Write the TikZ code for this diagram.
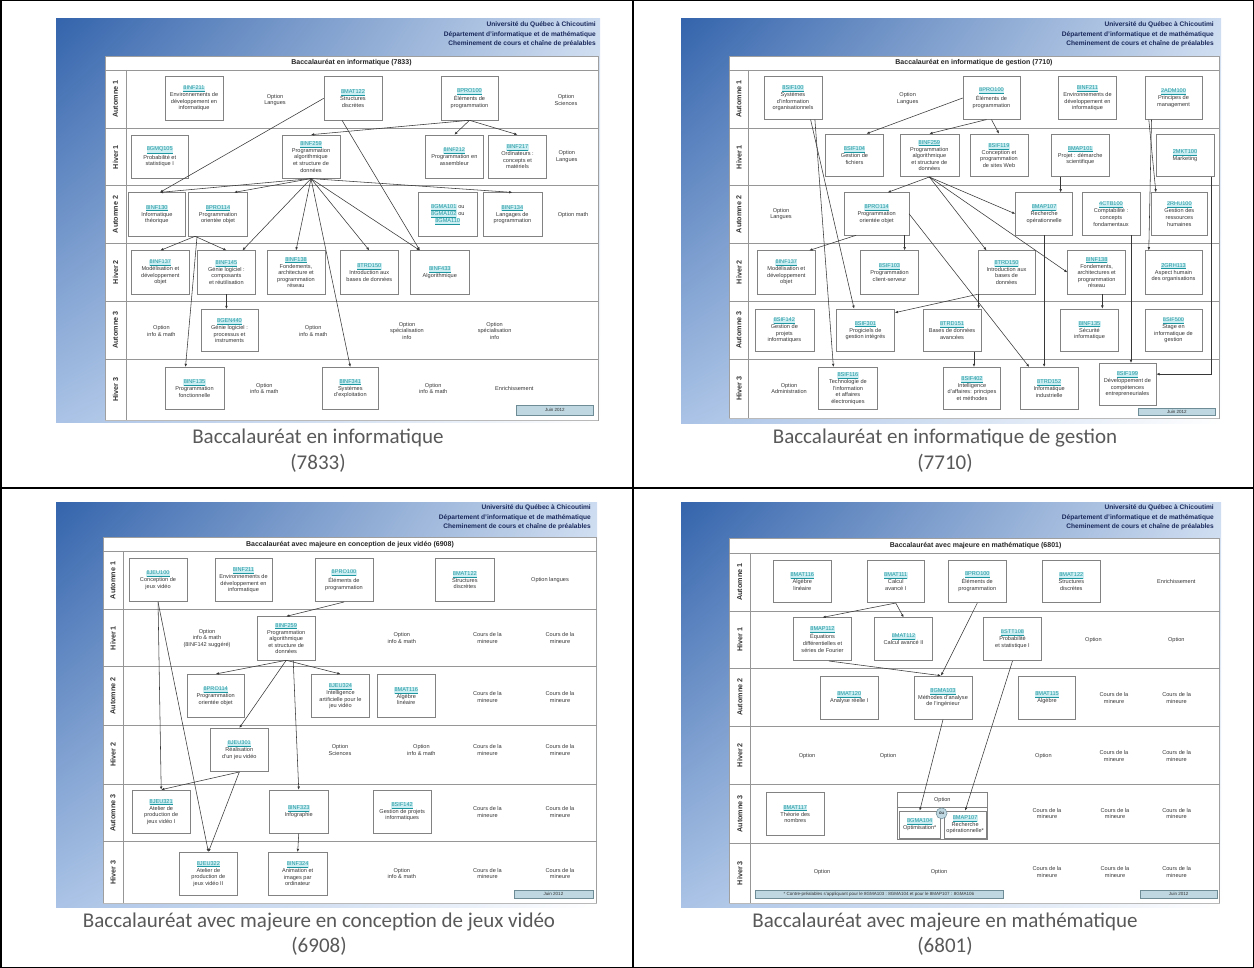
\documentclass[tikz,border=0pt]{standalone}
\usepackage{fontspec}
\setmainfont{Liberation Sans}
\newfontfamily\capfont{Carlito}
\usetikzlibrary{arrows.meta,shadings}

\definecolor{blueA}{RGB}{52,100,172}
\definecolor{blueB}{RGB}{205,220,240}
\definecolor{blueC}{RGB}{170,195,230}
\definecolor{navy}{RGB}{25,40,90}
\definecolor{codecol}{RGB}{30,150,160}
\definecolor{codebg}{RGB}{205,238,242}
\definecolor{boxtext}{RGB}{55,55,55}
\definecolor{gridcol}{RGB}{150,150,150}
\definecolor{boxline}{RGB}{130,130,130}
\definecolor{arrowcol}{RGB}{55,55,55}
\definecolor{capgray}{RGB}{89,89,89}
\definecolor{juinfill}{RGB}{190,215,225}
\definecolor{juinline}{RGB}{110,140,150}

% course code set like a highlighted link
\newcommand\cd[1]{{\setlength{\fboxsep}{0.3pt}\colorbox{codebg}{\color{codecol}\underline{#1}}}}
% course code on its own line
\newcommand\cc[1]{\cd{#1}\\[0.4pt]}
% box given by its corners: style, name, x0, y0, x1, y1, text
\newcommand\rbox[7]{\node[#1, minimum width={(#5)-(#3)}, minimum height={(#6)-(#4)}] (#2) at ({((#3)+(#5))/2},{((#4)+(#6))/2}) {#7};}
% header rule, label column rule and row rules of a chart
\newcommand\thumbgrid[6]{%
  \draw[rowrule] (#1,#4) -- (#3,#4);
  \draw[rowrule] (#2,#4) -- (#2,#5);
  \foreach \yy in {#6} \draw[rowrule] (#1,\yy) -- (#3,\yy);}
% term labels of the six rows
\newcommand\thumbrows[9]{%
  \node[rlab] (#1L1) at (#2,{(#3+#4)/2}) {Automne 1};
  \node[rlab] (#1L2) at (#2,{(#4+#5)/2}) {Hiver 1};
  \node[rlab] (#1L3) at (#2,{(#5+#6)/2}) {Automne 2};
  \node[rlab] (#1L4) at (#2,{(#6+#7)/2}) {Hiver 2};
  \node[rlab] (#1L5) at (#2,{(#7+#8)/2}) {Automne 3};
  \node[rlab] (#1L6) at (#2,{(#8+#9)/2}) {Hiver 3};}
\newcommand\bluebg[4]{\shade[shading=bilinear interpolation, upper left=blueA, upper right=blueB, lower left=blueC, lower right=white] (#1,#2) rectangle (#3,#4);}
\newcommand\uqac{Université du Québec à Chicoutimi\\Département d'informatique et de mathématique\\Cheminement de cours et chaîne de préalables}

\tikzset{
  cbox/.style={draw=boxline, line width=0.6pt, fill=white, align=center, inner sep=0.5pt,
    font=\fontsize{5.6}{6.6}\selectfont, text=boxtext},
  opt/.style={align=center, inner sep=0pt, font=\fontsize{5.6}{6.6}\selectfont, text=boxtext},
  hdr/.style={align=right, inner sep=0pt, anchor=north east,
    font=\fontsize{6.6}{9.5}\selectfont\bfseries, text=navy},
  ttl/.style={inner sep=0pt, font=\fontsize{7}{8}\selectfont\bfseries, text=black!85},
  rlab/.style={rotate=90, inner sep=0pt, font=\fontsize{7.2}{8}\selectfont\bfseries, text=black!80},
  rowrule/.style={draw=gridcol, line width=0.7pt},
  panelbox/.style={fill=white, draw=gray!75, line width=0.8pt},
  juin/.style={draw=juinline, fill=juinfill, line width=0.6pt, inner sep=0pt,
    font=\fontsize{4.5}{5}\selectfont, text=black!80},
  arr/.style={draw=arrowcol, line width=0.55pt, -{Latex[length=3.2pt,width=2.6pt]}},
  captext/.style={inner sep=0pt, font=\capfont\fontsize{21}{25}\selectfont, text=capgray},
  tablerule/.style={draw=black, line width=1.5pt},
}

\begin{document}
\begin{tikzpicture}[x=1pt,y=-1pt]
\useasboundingbox (0,0) rectangle (1254,968);
\fill[white] (0,0) rectangle (1254,968);

% ================= Baccalauréat en informatique (7833) =================
\bluebg{56}{19}{600}{423}
\node[hdr] (aHdr) at (596,21.5) {\uqac};
\draw[panelbox] (105,56) rectangle (598,420);
\draw[gray!55, line width=1.2pt] (105,420.5) -- (598,420.5);
\node[ttl] (aTtl) at (351.5,63) {Baccalauréat en informatique (7833)};
\thumbgrid{105}{126}{598}{70}{420}{128.3,185.7,243.3,301,359}
\thumbrows{A}{115.5}{70}{128.3}{185.7}{243.3}{301}{359}{420}

\rbox{cbox}{aEnv}{165}{76.7}{223}{120}{\cc{8INF211}Environnements de\\développement en\\informatique}
\node[opt] (aO1) at (275,100) {Option\\Langues};
\rbox{cbox}{aStr}{324}{76.7}{382}{120}{\cc{8MAT122}Structures\\discrètes}
\rbox{cbox}{aElem}{441}{76.7}{498}{120}{\cc{8PRO100}Éléments de\\programmation}
\node[opt] (aO2) at (566,100) {Option\\Sciences};

\rbox{cbox}{aProb}{131}{135}{188.6}{178.3}{\cc{8GMQ105}Probabilité et\\statistique I}
\rbox{cbox}{aAlgo}{282}{135}{340}{178.3}{\cc{8INF259}Programmation\\algorithmique\\et structure de\\données}
\rbox{cbox}{aAsm}{425.7}{135}{483}{178.3}{\cc{8INF212}Programmation en\\assembleur}
\rbox{cbox}{aMat}{488.6}{135}{546.4}{178.3}{\cc{8INF217}Ordinateurs :\\concepts et\\matériels}
\node[opt] (aO3) at (566.8,156.7) {Option\\Langues};

\rbox{cbox}{aTheo}{128}{192.7}{185.7}{236}{\cc{8INF130}Informatique\\théorique}
\rbox{cbox}{aOO}{188.6}{192.7}{247.5}{236}{\cc{8PRO114}Programmation\\orientée objet}
\rbox{cbox}{aOu}{418.6}{192.7}{476.8}{236}{\cd{8GMA101} ou\\[0.4pt]\cd{8GMA102} ou\\[0.4pt]\cd{8GMA110}}
\rbox{cbox}{aLang}{483}{192.7}{541.8}{236}{\cc{8INF134}Langages de\\programmation}
\node[opt] (aO4) at (573,215) {Option math};

\rbox{cbox}{aMod}{131.4}{250.7}{189.3}{294}{\cc{8INF137}Modélisation et\\développement\\objet}
\rbox{cbox}{aGLc}{197.5}{250.7}{255.4}{294}{\cc{8INF145}Génie logiciel :\\composants\\et réutilisation}
\rbox{cbox}{aRes}{267}{250.7}{325}{294}{\cc{8INF138}Fondements,\\architecture et\\programmation\\réseau}
\rbox{cbox}{aBD}{340.4}{250.7}{398.2}{294}{\cc{8TRD150}Introduction aux\\bases de données}
\rbox{cbox}{aAlgq}{410.7}{250.7}{469}{294}{\cc{8INF433}Algorithmique}

\node[opt] (aO5) at (161.4,330.7) {Option\\info \& math};
\rbox{cbox}{aGLp}{201}{309.3}{258}{351.7}{\cc{8GEN440}Génie logiciel :\\processus et\\instruments}
\node[opt] (aO6) at (313.2,330.7) {Option\\info \& math};
\node[opt] (aO7) at (407,330.7) {Option\\spécialisation\\info};
\node[opt] (aO8) at (494.6,330.7) {Option\\spécialisation\\info};

\rbox{cbox}{aFonc}{165}{367.3}{224}{409.3}{\cc{8INF135}Programmation\\fonctionnelle}
\node[opt] (aO9) at (264.3,388.3) {Option\\info \& math};
\rbox{cbox}{aSE}{322}{367.3}{378.6}{409.3}{\cc{8INF341}Systèmes\\d'exploitation}
\node[opt] (aO10) at (433.2,388.3) {Option\\info \& math};
\node[opt] (aO11) at (514.3,388.3) {Enrichissement};
\rbox{juin}{aJuin}{516}{405}{593.6}{415}{Juin 2012}

\draw[arr] (aStr.west) -- ([xshift=3pt]aTheo.north);
\draw[arr] ([xshift=-11pt]aStr.south) -- ([xshift=-20pt]aAlgq.north);
\draw[arr] (aElem.south) -- (aAlgo.north);
\draw[arr] (aElem.south) -- (aAsm.north);
\draw[arr] (aElem.south) -- (aMat.north);
\draw[arr] (aAlgo.south) -- ([xshift=3pt]aTheo.north);
\draw[arr] (aAlgo.south) -- ([xshift=16pt]aOO.north);
\draw[arr] (aAlgo.south) -- (aLang.north);
\draw[arr] (aAlgo.south) -- ([xshift=16pt]aGLc.north);
\draw[arr] (aAlgo.south) -- (aRes.north);
\draw[arr] (aAlgo.south) -- (aBD.north);
\draw[arr] (aAlgo.south) -- ([xshift=-20pt]aAlgq.north);
\draw[arr] (aAlgo.south) -- (aSE.north);
\draw[arr] ([xshift=-23pt]aOO.south) -- (aMod.north);
\draw[arr] ([xshift=-23pt]aOO.south) -- (aGLc.north);
\draw[arr] ([xshift=-21pt]aOO.south) -- ([xshift=-9pt]aFonc.north);
\draw[arr] (aGLc.south) -- (aGLc.south |- aGLp.north);

% ============ Baccalauréat en informatique de gestion (7710) ============
\bluebg{681}{19}{1221}{424}
\node[hdr] (bHdr) at (1214,21.5) {\uqac};
\draw[panelbox] (729,56) rectangle (1219,418);
\draw[gray!55, line width=1.2pt] (729,418.5) -- (1219,418.5);
\node[ttl] (bTtl) at (974,63) {Baccalauréat en informatique de gestion (7710)};
\thumbgrid{729}{748.8}{1219}{70}{418}{128.3,185.7,243.3,301,359}
\thumbrows{B}{739}{70}{128.3}{185.7}{243.3}{301}{359}{418}

\rbox{cbox}{bSys}{764}{76.7}{822}{119.3}{\cc{8SIF100}Systèmes\\d'information\\organisationnels}
\node[opt] (bO1) at (907.7,98.3) {Option\\Langues};
\rbox{cbox}{bElem}{963}{76.7}{1020}{119.3}{\cc{8PRO100}Éléments de\\programmation}
\rbox{cbox}{bEnv}{1058.4}{76.7}{1116.6}{119.3}{\cc{8INF211}Environnements de\\développement en\\informatique}
\rbox{cbox}{bMgt}{1145}{76.7}{1202}{119.3}{\cc{2ADM100}Principes de\\management}

\rbox{cbox}{bFich}{825.6}{134}{883.4}{176.7}{\cc{8SIF104}Gestion de\\fichiers}
\rbox{cbox}{bAlgo}{899.9}{134}{958.8}{176.7}{\cc{8INF259}Programmation\\algorithmique\\et structure de\\données}
\rbox{cbox}{bWeb}{970}{134}{1028}{176.7}{\cc{8SIF119}Conception et\\programmation\\de sites Web}
\rbox{cbox}{bProj}{1051}{134}{1109.5}{176.7}{\cc{8MAP101}Projet : démarche\\scientifique}
\rbox{cbox}{bMkt}{1156}{134}{1214}{176.7}{\cc{2MKT100}Marketing}

\node[opt] (bO2) at (781,214) {Option\\Langues};
\rbox{cbox}{bOO}{844.5}{192.7}{908.8}{235}{\cc{8PRO114}Programmation\\orientée objet}
\rbox{cbox}{bRO}{1015.6}{192.7}{1072.7}{235}{\cc{8MAP107}Recherche\\opérationnelle}
\rbox{cbox}{bCpt}{1082}{192.7}{1140}{235}{\cc{4CTB100}Comptabilité :\\concepts\\fondamentaux}
\rbox{cbox}{bRH}{1151}{192.7}{1207.7}{235}{\cc{2RHU100}Gestion des\\ressources\\humaines}

\rbox{cbox}{bMod}{757.7}{250.7}{814.9}{294}{\cc{8INF137}Modélisation et\\développement\\objet}
\rbox{cbox}{bCS}{860.6}{250.7}{918.4}{294}{\cc{8SIF103}Programmation\\client-serveur}
\rbox{cbox}{bBD}{978}{250.7}{1035}{294}{\cc{8TRD150}Introduction aux\\bases de\\données}
\rbox{cbox}{bRes}{1067.7}{250.7}{1125.6}{294}{\cc{8INF138}Fondements,\\architectures et\\programmation\\réseau}
\rbox{cbox}{bHum}{1145}{250.7}{1202}{294}{\cc{2GRH113}Aspect humain\\des organisations}

\rbox{cbox}{bGP}{754.9}{309}{813.8}{351.7}{\cc{8SIF142}Gestion de\\projets\\informatiques}
\rbox{cbox}{bPGI}{836.3}{309}{894.5}{351.7}{\cc{8SIF301}Progiciels de\\gestion intégrés}
\rbox{cbox}{bBDA}{923}{309}{981}{351.7}{\cc{8TRD151}Bases de données\\avancées}
\rbox{cbox}{bSec}{1060.6}{309}{1118.4}{351.7}{\cc{8INF135}Sécurité\\informatique}
\rbox{cbox}{bStage}{1145}{309}{1202}{351.7}{\cc{8SIF500}Stage en\\informatique de\\gestion}

\node[opt] (bO3) at (789,388.3) {Option\\Administration};
\rbox{cbox}{bTI}{818.4}{367.3}{877.4}{409.3}{\cc{8SIF116}Technologie de\\l'information\\et affaires\\électroniques}
\rbox{cbox}{bIA}{943.4}{367.3}{1000.6}{409.3}{\cc{8SIF402}Intelligence\\d'affaires: principes\\et méthodes}
\rbox{cbox}{bInd}{1020}{367.3}{1078.4}{409.3}{\cc{8TRD152}Informatique\\industrielle}
\rbox{cbox}{bDev}{1098.8}{363.3}{1156}{405}{\cc{8SIF199}Développement de\\compétences\\entrepreneuriales}
\rbox{juin}{bJuin}{1138}{408}{1215.6}{415.5}{Juin 2012}

\draw[arr] ([xshift=17.6pt]bSys.south) -- ([xshift=-11.3pt]bPGI.north);
\draw[arr] ([xshift=21.9pt]bSys.south) -- ([xshift=-14.5pt]bTI.north);
\draw[arr] (bElem.west) -- ([xshift=12pt]bFich.north);
\draw[arr] ([xshift=-5pt]bElem.south) -- (bAlgo.north);
\draw[arr] (bElem.south) -- (bWeb.north);
\draw[arr] (bAlgo.south) -- ([xshift=11pt]bOO.north);
\draw[arr] (bAlgo.south) -- (bRO.west);
\draw[arr] (bAlgo.south) -- ([xshift=-20pt]bBD.north);
\draw[arr] (bAlgo.south) -- (bRes.west);
\draw[arr] (bOO.east) -- ([xshift=-20pt]bInd.north);
\draw[arr] ([xshift=-20.6pt]bOO.south) -- ([xshift=23pt]bMod.north);
\draw[arr] ([xshift=28pt]bOO.south) -- ([xshift=28pt]bOO.south |- bCS.north);
\draw[arr] (bBD.south west) -- ([yshift=-4pt]bPGI.north east);
\draw[arr] ([xshift=1pt]bBD.south west) -- ([xshift=1pt]bBD.south west |- bBDA.north);
\draw[arr] ([xshift=22pt]bBDA.south) -- ([xshift=22pt]bBDA.south |- bIA.north);
\draw[arr] ([xshift=-19.6pt]bProj.south) -- ([xshift=-19.6pt]bProj.south |- bRO.north);
\draw[arr] (bRO.south) -- (bRO.south |- bInd.north);
\draw[arr] ([xshift=20pt]bCpt.south) -- ([xshift=20pt]bCpt.south |- bDev.north);
\draw[arr] ([xshift=5.7pt]bRes.south) -- ([xshift=5.7pt]bRes.south |- bSec.north);
\draw[arr] ([xshift=-24.7pt]bMgt.south) -- ([xshift=-23.5pt]bRH.north);
\draw[arr] ([xshift=-22pt]bMgt.south) -- ([xshift=-24.7pt]bHum.north);
\draw[arr] ([xshift=-3pt]bMkt.south east) |- ([yshift=10pt]bDev.east);

% ===== Baccalauréat avec majeure en conception de jeux vidéo (6908) =====
\bluebg{56}{502.3}{597}{907.3}
\node[hdr] (cHdr) at (591,504.5) {\uqac};
\draw[panelbox] (103,537.3) rectangle (596.5,903);
\draw[gray!55, line width=1.2pt] (103,903.5) -- (596.5,903.5);
\node[ttl] (cTtl) at (350,544.5) {Baccalauréat avec majeure en conception de jeux vidéo (6908)};
\thumbgrid{103}{123.2}{596.5}{551.7}{903}{609.3,666.7,725,784.3,841.7}
\thumbrows{C}{113}{551.7}{609.3}{666.7}{725}{784.3}{841.7}{903}

\rbox{cbox}{cConc}{129.3}{558.3}{186.8}{601.7}{\cc{8JEU100}Conception de\\jeux vidéo}
\rbox{cbox}{cEnv}{215}{558.3}{272}{601.7}{\cc{8INF211}Environnements de\\développement en\\informatique}
\rbox{cbox}{cElem}{315}{558.3}{373}{601.7}{\cc{8PRO100}Éléments de\\programmation}
\rbox{cbox}{cStr}{435.7}{558.3}{494}{601.7}{\cc{8MAT122}Structures\\discrètes}
\node[opt] (cO1) at (550,580) {Option langues};

\node[opt] (cO2) at (207,638.3) {Option\\info \& math\\(8INF142 suggéré)};
\rbox{cbox}{cAlgo}{257}{616.7}{315.4}{660}{\cc{8INF259}Programmation\\algorithmique\\et structure de\\données}
\node[opt] (cO3) at (401.8,638) {Option\\info \& math};
\node[opt] (cO4) at (487.5,638) {Cours de la\\mineure};
\node[opt] (cO5) at (560,638) {Cours de la\\mineure};

\rbox{cbox}{cOO}{186.8}{674.3}{244.6}{717.7}{\cc{8PRO114}Programmation\\orientée objet}
\rbox{cbox}{cIA}{311.4}{674.3}{369.6}{717.7}{\cc{8JEU324}Intelligence\\artificielle pour le\\jeu vidéo}
\rbox{cbox}{cAlg}{376.8}{674.3}{435.7}{717.7}{\cc{8MAT116}Algèbre\\linéaire}
\node[opt] (cO6) at (487.5,696.7) {Cours de la\\mineure};
\node[opt] (cO7) at (560,696.7) {Cours de la\\mineure};

\rbox{cbox}{cReal}{210}{728.3}{268.6}{771.7}{\cc{8JEU301}Réalisation\\d'un jeu vidéo}
\node[opt] (cO8) at (340,750) {Option\\Sciences};
\node[opt] (cO9) at (421.4,750) {Option\\info \& math};
\node[opt] (cO10) at (487.5,750) {Cours de la\\mineure};
\node[opt] (cO11) at (560,750) {Cours de la\\mineure};

\rbox{cbox}{cAt1}{132}{790}{190.4}{833.3}{\cc{8JEU321}Atelier de\\production de\\jeux vidéo I}
\rbox{cbox}{cInfo}{269.6}{790}{327.9}{833.3}{\cc{8INF323}Infographie}
\rbox{cbox}{cGP}{373}{790}{431.4}{833.3}{\cc{8SIF142}Gestion de projets\\informatiques}
\node[opt] (cO12) at (487.5,811.7) {Cours de la\\mineure};
\node[opt] (cO13) at (560,811.7) {Cours de la\\mineure};

\rbox{cbox}{cAt2}{179.3}{852.3}{237.5}{895}{\cc{8JEU322}Atelier de\\production de\\jeux vidéo II}
\rbox{cbox}{cAnim}{268.6}{852.3}{326.8}{895}{\cc{8INF324}Animation et\\images par\\ordinateur}
\node[opt] (cO14) at (401.8,873.3) {Option\\info \& math};
\node[opt] (cO15) at (487.5,873.3) {Cours de la\\mineure};
\node[opt] (cO16) at (560,873.3) {Cours de la\\mineure};
\rbox{juin}{cJuin}{514}{890}{593}{898}{Juin 2012}

\draw[arr] (cConc.south) -- (cAt1.north);
\draw[arr] (cConc.south) -- (cAt2.north);
\draw[arr] (cElem.south) -- (cAlgo.north);
\draw[arr] (cAlgo.south) -- (cOO.north);
\draw[arr] (cAlgo.south) -- (cIA.north);
\draw[arr] (cAlgo.south) -- (cReal.north);
\draw[arr] ([xshift=7pt]cAlgo.south) -- (cInfo.north);
\draw[arr] (cReal.south) -- (cAt1.north);
\draw[arr] (cReal.south) -- (cAt2.north);
\draw[arr] (cInfo.south) -- (cAnim.north);

% ========= Baccalauréat avec majeure en mathématique (6801) =========
\bluebg{681}{502.3}{1221}{907}
\node[hdr] (dHdr) at (1214,504.5) {\uqac};
\draw[panelbox] (729,538.3) rectangle (1219.5,903);
\draw[gray!55, line width=1.2pt] (729,903.5) -- (1219.5,903.5);
\node[ttl] (dTtl) at (975.6,545.8) {Baccalauréat avec majeure en mathématique (6801)};
\thumbgrid{729}{750.6}{1219.5}{553.3}{903}{611,668.3,726,784.3,843.3}
\thumbrows{D}{739.8}{553.3}{611}{668.3}{726}{784.3}{843.3}{903}

\rbox{cbox}{dAlg}{773}{560}{831.6}{602.7}{\cc{8MAT116}Algèbre\\linéaire}
\rbox{cbox}{dCal1}{867}{560}{924.5}{602.7}{\cc{8MAT111}Calcul\\avancé I}
\rbox{cbox}{dElem}{948}{560}{1006.6}{602.7}{\cc{8PRO100}Éléments de\\programmation}
\rbox{cbox}{dStr}{1042}{560}{1100.6}{602.7}{\cc{8MAT122}Structures\\discrètes}
\node[opt] (dO1) at (1176.3,581.7) {Enrichissement};

\rbox{cbox}{dEq}{793.4}{617.7}{851.6}{660.7}{\cc{8MAP112}Équations\\différentielles et\\séries de Fourier}
\rbox{cbox}{dCal2}{874.5}{617.7}{932.7}{660.7}{\cc{8MAT112}Calcul avancé II}
\rbox{cbox}{dProb}{983.4}{617.7}{1041.6}{660.7}{\cc{8STT108}Probabilité\\et statistique I}
\node[opt] (dO2) at (1093.4,640) {Option};
\node[opt] (dO3) at (1176.3,640) {Option};

\rbox{cbox}{dAnR}{820}{676}{878.4}{719.3}{\cc{8MAT120}Analyse réelle I}
\rbox{cbox}{dMeth}{914}{676}{972}{719.3}{\cc{8GMA103}Méthodes d'analyse\\de l'ingénieur}
\rbox{cbox}{dAlgb}{1018.4}{676}{1075.6}{719.3}{\cc{8MAT115}Algèbre}
\node[opt] (dO4) at (1114,698) {Cours de la\\mineure};
\node[opt] (dO5) at (1176.6,698) {Cours de la\\mineure};

\node[opt] (dO6) at (807,756) {Option};
\node[opt] (dO7) at (888,756) {Option};
\node[opt] (dO8) at (1043.4,756) {Option};
\node[opt] (dO9) at (1114,756) {Cours de la\\mineure};
\node[opt] (dO10) at (1176.6,756) {Cours de la\\mineure};

\rbox{cbox}{dTh}{766}{792.7}{824.5}{835}{\cc{8MAT117}Théorie des\\nombres}
\rbox{cbox}{dGrp}{897.7}{792.7}{987}{839}{}
\node[opt] (dGrpLbl) at (942.3,800.3) {Option};
\draw[draw=boxline, line width=0.6pt] (897.7,807.7) -- (987,807.7);
\rbox{cbox}{dOpt}{898.8}{811}{940.6}{838.3}{\cc{8GMA104}Optimisation*}
\rbox{cbox}{dRO}{944}{811}{986.3}{838.3}{\cc{8MAP107}Recherche\\opérationnelle*}
\node[circle, draw=juinline, fill=juinfill, line width=0.5pt, minimum size=11pt, inner sep=0pt,
  font=\fontsize{4.5}{5}\selectfont] (dOu) at (941.6,813.3) {ou};
\node[opt] (dO11) at (1047,813.3) {Cours de la\\mineure};
\node[opt] (dO12) at (1115,813.3) {Cours de la\\mineure};
\node[opt] (dO13) at (1176.6,813.3) {Cours de la\\mineure};

\node[opt] (dO14) at (822,871.7) {Option};
\node[opt] (dO15) at (939,871.7) {Option};
\node[opt] (dO16) at (1047,871.7) {Cours de la\\mineure};
\node[opt] (dO17) at (1115,871.7) {Cours de la\\mineure};
\node[opt] (dO18) at (1176.6,871.7) {Cours de la\\mineure};
\rbox{juin}{dNote}{754.9}{890}{1003}{898.3}{* Contre-préalables s'appliquant pour le 8GMA103 : 8GMA104 et pour le 8MAP107 : 8GMA106}
\rbox{juin}{dJuin}{1140}{890}{1217}{898.5}{Juin 2012}

\draw[arr] (dCal1.south) -- (dEq.north);
\draw[arr] (dCal1.south) -- (dCal2.north);
\draw[arr] (dElem.south) -- ([xshift=-2pt]dMeth.north);
\draw[arr] ([xshift=6.5pt]dEq.south) -- ([xshift=-2pt]dMeth.north);
\draw[arr] (dMeth.south) -- (dOpt.north);
\draw[arr] (dProb.south) -- (dRO.north);

% ========================== captions ==========================
\node[captext] (capA1) at (318,438.3) {Baccalauréat en informatique};
\node[captext] (capA2) at (318,463.3) {(7833)};
\node[captext] (capB1) at (945,438.3) {Baccalauréat en informatique de gestion};
\node[captext] (capB2) at (945,463.3) {(7710)};
\node[captext] (capC1) at (319,921.7) {Baccalauréat avec majeure en conception de jeux vidéo};
\node[captext] (capC2) at (319,946.7) {(6908)};
\node[captext] (capD1) at (945,921.7) {Baccalauréat avec majeure en mathématique};
\node[captext] (capD2) at (945,946.7) {(6801)};

% ========================== table rules ==========================
\draw[tablerule] (0.75,0.75) rectangle (1253.25,967.25);
\draw[tablerule] (633,0.75) -- (633,967.25);
\draw[tablerule] (0.75,488) -- (1253.25,488);
\end{tikzpicture}
\end{document}
